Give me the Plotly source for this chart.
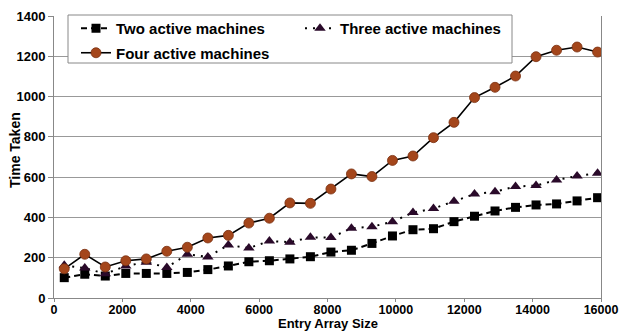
import plotly.graph_objects as go

# Entry array sizes sampled in the experiment
entry_sizes = [300, 900, 1500, 2100, 2700, 3300, 3900, 4500, 5100, 5700, 6300, 6900,
               7500, 8100, 8700, 9300, 9900, 10500, 11100, 11700, 12300, 12900,
               13500, 14100, 14700, 15300, 15900]

# Time taken for each machine count
two_machines = [101, 118, 109, 122, 122, 122, 127, 141, 159, 180, 185, 194, 205,
                228, 237, 271, 308, 339, 344, 379, 406, 432, 450, 462, 467, 482, 498]
three_machines = [162, 149, 120, 159, 178, 152, 217, 204, 263, 248, 283, 277, 301,
                  300, 346, 354, 379, 424, 444, 480, 516, 528, 553, 558, 586, 606, 619]
four_machines = [145, 217, 154, 185, 194, 232, 252, 298, 311, 372, 396, 472, 470,
                 541, 616, 603, 683, 705, 796, 872, 995, 1046, 1102, 1198, 1230, 1246, 1221]

series_names = ["Two active machines", "Three active machines", "Four active machines"]
x_ticks = [0, 2000, 4000, 6000, 8000, 10000, 12000, 14000, 16000]
x_tick_labels = ["0", "2000", "4000", "6000", "8000", "10000", "12000", "14000", "16000"]
y_ticks = [0, 200, 400, 600, 800, 1000, 1200, 1400]
y_tick_labels = ["0", "200", "400", "600", "800", "1000", "1200", "1400"]
x_title = "Entry Array Size"
y_title = "Time Taken"

FONT = "Liberation Sans"
PLOT_L, PLOT_R, PLOT_T, PLOT_B = 54, 601, 16, 298
PLOT_W, PLOT_H = PLOT_R - PLOT_L, PLOT_B - PLOT_T


def px_x(px):
    return (px - PLOT_L) / PLOT_W


def px_y(px):
    return (PLOT_B - px) / PLOT_H


fig = go.Figure()

fig.add_trace(go.Scatter(
    x=entry_sizes, y=two_machines, name=series_names[0], mode="lines+markers",
    line=dict(color="black", width=2, dash="6px,4px"),
    marker=dict(symbol="square", size=9, color="black"),
    legend="legend", legendgroup="a"))

fig.add_trace(go.Scatter(
    x=entry_sizes, y=three_machines, name=series_names[1], mode="lines+markers",
    line=dict(color="black", width=2, dash="2px,6px"),
    marker=dict(symbol="triangle-up", size=10, color="#2a0a2a"),
    legend="legend2"))

fig.add_trace(go.Scatter(
    x=entry_sizes, y=four_machines, name=series_names[2], mode="lines+markers",
    line=dict(color="black", width=1.6),
    marker=dict(symbol="circle", size=10, color="#a4461b",
                line=dict(color="#7a3010", width=0.8)),
    legend="legend", legendgroup="b"))

# Outline enclosing both legend blocks
fig.add_shape(type="rect", xref="paper", yref="paper",
              x0=px_x(68), x1=px_x(512), y0=px_y(63), y1=px_y(15),
              line=dict(color="#888888", width=1), fillcolor="white", layer="above")

legend_font = dict(family=FONT, size=15, color="black", weight="bold")
tick_font = dict(family=FONT, size=13, color="black", weight="bold")
x_tick_font = dict(family=FONT, size=12.5, color="black", weight="bold")
x_title_font = dict(family=FONT, size=13, color="black", weight="bold")
y_title_font = dict(family=FONT, size=14, color="black", weight="bold")

# Axis titles placed as annotations for tight control of their position
fig.add_annotation(text=x_title, xref="paper", yref="paper",
                   x=0.5, y=px_y(333), xanchor="center", yanchor="bottom",
                   showarrow=False, font=x_title_font)
fig.add_annotation(text=y_title, xref="paper", yref="paper",
                   x=px_x(15), y=px_y(150), xanchor="center", yanchor="middle",
                   textangle=-90, showarrow=False, font=y_title_font)

fig.update_layout(
    width=621, height=331,
    margin=dict(l=PLOT_L, r=621 - PLOT_R, t=PLOT_T, b=331 - PLOT_B),
    paper_bgcolor="white", plot_bgcolor="white",
    font=dict(family=FONT, size=12, color="black"),
    legend=dict(x=px_x(76), y=px_y(12), xanchor="left", yanchor="top",
                bgcolor="rgba(0,0,0,0)", font=legend_font, tracegroupgap=2,
                itemwidth=30),
    legend2=dict(x=px_x(300), y=px_y(12), xanchor="left", yanchor="top",
                 bgcolor="rgba(0,0,0,0)", font=legend_font, itemwidth=30),
    xaxis=dict(range=[0, 16000], tickvals=x_ticks, ticktext=x_tick_labels,
               ticks="outside", ticklen=3, ticklabelstandoff=-3, automargin=False,
               tickcolor="#888888", showline=True, linecolor="#888888", linewidth=1,
               showgrid=False, zeroline=False, tickfont=x_tick_font),
    yaxis=dict(range=[0, 1400], tickvals=y_ticks, ticktext=y_tick_labels,
               ticks="outside", ticklen=5, automargin=False,
               tickcolor="#888888", showline=True, linecolor="#888888", linewidth=1,
               mirror=True, showgrid=True, gridcolor="#999999", gridwidth=1,
               zeroline=False, tickfont=tick_font),
)

fig.write_html("out.html")
